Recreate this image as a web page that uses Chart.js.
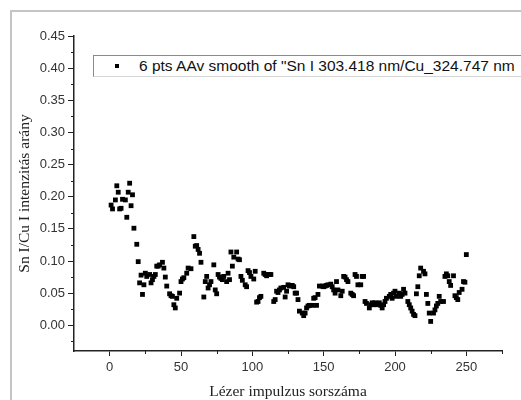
<!DOCTYPE html>
<html lang="hu">
<head>
<meta charset="utf-8">
<title>Sn I / Cu I intenzitás arány</title>
<script src="https://cdn.jsdelivr.net/npm/chart.js@4.4.0/dist/chart.umd.min.js"></script>
<style>
  html, body { margin: 0; padding: 0; background: #fff; }
  #lap { position: relative; width: 521px; height: 400px; overflow: hidden; }
  #keret { position: absolute; left: 10px; top: 10px; width: 540px; height: 420px;
           border-left: 2px solid #c4c4c4; border-top: 2px solid #c4c4c4; }
  #grafikon { position: absolute; left: 0; top: 0; }
  #jelmagyarazat { position: absolute; left: 93px; top: 55px; width: 460px; height: 20px;
                   border: 1px solid #8a8a8a; border-bottom-color: #d6d6d6; background: #fff;
                   font: 15.5px "Liberation Sans", Arial, sans-serif; color: #111; white-space: nowrap; }
  #jelmagyarazat .jel { position: absolute; left: 21px; top: 8px; width: 4px; height: 4px; background: #000; }
  #jelmagyarazat .szoveg { position: absolute; left: 45px; top: 1px; }
</style>
</head>
<body>
<div id="lap">
  <div id="keret"></div>
  <canvas id="grafikon" width="521" height="400"></canvas>
  <div id="jelmagyarazat"><span class="jel"></span><span class="szoveg">6 pts AAv smooth of "Sn I 303.418 nm/Cu_324.747 nm</span></div>
</div>
<script>
// Lézer impulzus sorszáma (x) és a simított Sn I / Cu I arány (y), leolvasva az ábráról.
const IMPULZUS = [
  1, 2, 4, 5, 6, 7, 8, 9, 11, 12, 13, 14, 15, 16, 17, 19, 20, 21, 22, 23, 24, 25, 26, 28, 29,
  30, 31, 32, 33, 34, 35, 37, 38, 39, 40, 42, 43, 44, 45, 46, 47, 49, 50, 51, 52, 54, 55, 57, 59, 60,
  61, 62, 63, 64, 66, 67, 68, 69, 70, 71, 73, 74, 75, 76, 77, 78, 79, 80, 82, 83, 84, 85, 86, 87, 89,
  90, 91, 92, 93, 95, 96, 97, 98, 99, 101, 102, 103, 104, 105, 106, 108, 109, 110, 111, 112, 113, 115, 116, 117, 118,
  119, 120, 122, 123, 124, 125, 126, 128, 129, 130, 131, 132, 133, 135, 136, 137, 138, 139, 140, 142, 143, 144, 145, 146, 147,
  149, 150, 151, 152, 153, 155, 156, 157, 158, 159, 160, 162, 163, 164, 165, 166, 167, 169, 170, 171, 172, 173, 174, 176, 177,
  178, 179, 180, 182, 183, 184, 185, 186, 187, 189, 190, 191, 192, 193, 194, 196, 197, 198, 199, 200, 201, 203, 204, 205, 206,
  207, 209, 210, 211, 212, 213, 214, 215, 216, 217, 218, 220, 221, 222, 223, 224, 225, 227, 228, 229, 230, 231, 232, 234, 235,
  236, 237, 238, 239, 241, 242, 243, 244, 245, 247, 248, 249, 250,
];
const ARANY = [
  0.187, 0.181, 0.195, 0.217, 0.207, 0.181, 0.182, 0.196, 0.195, 0.168, 0.207, 0.221, 0.186, 0.203, 0.151, 0.126, 0.099, 0.066, 0.078, 0.048, 0.063, 0.081, 0.076, 0.079, 0.066,
  0.071, 0.076, 0.079, 0.092, 0.092, 0.094, 0.098, 0.089, 0.075, 0.061, 0.049, 0.046, 0.045, 0.032, 0.027, 0.042, 0.050, 0.068, 0.072, 0.074, 0.081, 0.089, 0.088, 0.138, 0.123,
  0.124, 0.118, 0.112, 0.098, 0.044, 0.068, 0.076, 0.058, 0.063, 0.068, 0.094, 0.055, 0.049, 0.079, 0.075, 0.073, 0.071, 0.076, 0.068, 0.081, 0.071, 0.114, 0.092, 0.106, 0.114,
  0.103, 0.102, 0.076, 0.070, 0.063, 0.060, 0.085, 0.082, 0.076, 0.072, 0.084, 0.036, 0.037, 0.043, 0.045, 0.081, 0.079, 0.077, 0.079, 0.079, 0.079, 0.037, 0.040, 0.053, 0.051,
  0.055, 0.058, 0.059, 0.044, 0.053, 0.063, 0.061, 0.062, 0.060, 0.050, 0.050, 0.040, 0.022, 0.019, 0.015, 0.019, 0.027, 0.030, 0.031, 0.031, 0.042, 0.043, 0.031, 0.048, 0.061,
  0.061, 0.060, 0.061, 0.062, 0.063, 0.064, 0.060, 0.055, 0.050, 0.068, 0.055, 0.046, 0.053, 0.076, 0.075, 0.071, 0.068, 0.050, 0.048, 0.046, 0.079, 0.076, 0.063, 0.063, 0.076,
  0.076, 0.037, 0.034, 0.027, 0.032, 0.035, 0.032, 0.035, 0.032, 0.035, 0.031, 0.027, 0.032, 0.037, 0.042, 0.045, 0.048, 0.042, 0.050, 0.053, 0.045, 0.050, 0.045, 0.048, 0.056,
  0.050, 0.037, 0.032, 0.027, 0.022, 0.017, 0.015, 0.049, 0.060, 0.077, 0.089, 0.084, 0.080, 0.048, 0.034, 0.019, 0.006, 0.019, 0.024, 0.030, 0.034, 0.045, 0.037, 0.037, 0.076,
  0.080, 0.077, 0.068, 0.062, 0.077, 0.046, 0.043, 0.040, 0.051, 0.056, 0.068, 0.067, 0.110,
];

const X_TICKEK = [0, 50, 100, 150, 200, 250];
const X_KIS_TICKEK = [25, 75, 125, 175, 225, 275];
const Y_TICKEK = [0, 0.05, 0.10, 0.15, 0.20, 0.25, 0.30, 0.35, 0.40, 0.45];
const Y_KIS_TICKEK = [-0.025, 0.025, 0.075, 0.125, 0.175, 0.225, 0.275, 0.325, 0.375, 0.425];

const tengelySzin = '#222';
const cimkeBetu = { family: '"Liberation Sans", Arial, sans-serif', size: 13 };
const cimBetu = { family: '"Liberation Serif", "Times New Roman", serif', size: 15.5, lineHeight: 1 };

// Origin-szerű kis osztásjelek a főtickek között
const kisTickek = {
  id: 'kisTickek',
  afterDraw(chart) {
    const { ctx, scales: { x, y } } = chart;
    ctx.save();
    ctx.strokeStyle = tengelySzin;
    ctx.lineWidth = 1;
    ctx.beginPath();
    for (const v of X_KIS_TICKEK) {
      const px = Math.round(x.getPixelForValue(v)) + 0.5;
      ctx.moveTo(px, x.top); ctx.lineTo(px, x.top + 3);
    }
    for (const v of Y_KIS_TICKEK) {
      const py = Math.round(y.getPixelForValue(v)) + 0.5;
      ctx.moveTo(y.right - 3, py); ctx.lineTo(y.right, py);
    }
    ctx.stroke();
    ctx.restore();
  },
};

new Chart(document.getElementById('grafikon'), {
  type: 'scatter',
  data: {
    datasets: [{
      label: '6 pts AAv smooth of "Sn I 303.418 nm/Cu_324.747 nm',
      data: IMPULZUS.map((x, i) => ({ x, y: ARANY[i] })),
      backgroundColor: '#000',
      borderColor: '#000',
      pointStyle: 'rect',
      pointRadius: 3.4,
      borderWidth: 0,
    }],
  },
  options: {
    responsive: false,
    animation: false,
    layout: { padding: { left: 0, top: 36, right: 19, bottom: 0 } },
    plugins: { legend: { display: false }, tooltip: { enabled: false } },
    scales: {
      x: {
        type: 'linear', min: -25, max: 275,
        afterBuildTicks: (s) => { s.ticks = X_TICKEK.map((value) => ({ value })); },
        afterFit: (s) => { s.height = 49; },
        border: { color: tengelySzin, width: 1.5 },
        grid: { drawOnChartArea: false, tickLength: 5, tickColor: tengelySzin, tickWidth: 1 },
        ticks: { color: '#333', font: cimkeBetu, padding: 4, maxRotation: 0 },
        title: { display: true, text: 'Lézer impulzus sorszáma', color: '#222', font: cimBetu, padding: { top: -1, bottom: 0 } },
      },
      y: {
        type: 'linear', min: -0.04, max: 0.45,
        afterBuildTicks: (s) => { s.ticks = Y_TICKEK.map((value) => ({ value })); },
        afterFit: (s) => { s.width = 74; },
        border: { color: tengelySzin, width: 1.5 },
        grid: { drawOnChartArea: false, tickLength: 6, tickColor: tengelySzin, tickWidth: 1 },
        ticks: { color: '#333', font: cimkeBetu, padding: 3, callback: (v) => v.toFixed(2) },
        title: { display: true, text: 'Sn I/Cu I intenzitás arány', color: '#222', font: cimBetu, padding: { top: 17, bottom: 0 } },
      },
    },
  },
  plugins: [kisTickek],
});
</script>
</body>
</html>
